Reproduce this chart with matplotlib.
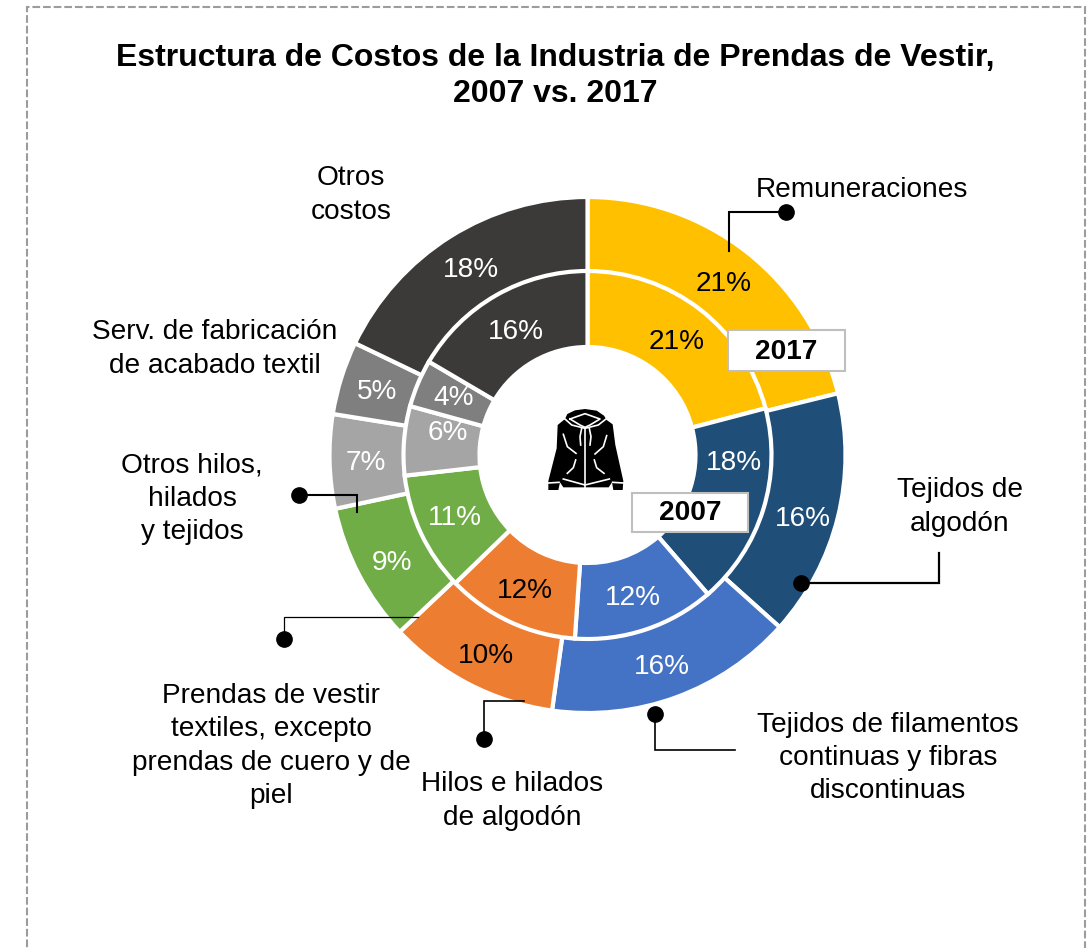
import matplotlib
matplotlib.use("Agg")
import matplotlib.pyplot as plt
from matplotlib.patches import Polygon, Rectangle

plt.rcParams['font.family'] = ['Liberation Sans', 'DejaVu Sans']

W, H = 1091, 948

# shares measured off the rings (drawn sizes differ a bit from the printed labels)
shares_2017 = [21.2, 15.5, 15.6, 10.8, 8.7, 5.9, 4.6, 17.9]
shares_2007 = [21.0, 17.8, 12.5, 11.7, 10.5, 6.1, 4.2, 16.6]
labels_2017 = ["21%", "16%", "16%", "10%", "9%", "7%", "5%", "18%"]
labels_2007 = ["21%", "18%", "12%", "12%", "11%", "6%", "4%", "16%"]
colors = ["#FFC000", "#1F4E79", "#4472C4", "#ED7D31", "#70AD47", "#A5A5A5", "#7F7F7F", "#3B3A38"]
dark_slices = ["#FFC000", "#ED7D31"]

pos_2017 = [(724, 284), (803, 519), (662, 667), (486, 656), (392, 563), (366, 463), (377, 392), (471, 270)]
pos_2007 = [(677, 342), (734, 463), (633, 598), (525, 591), (455, 518), (448, 433), (454, 398), (516, 332)]


def Y(py):
    return H - py


fig = plt.figure(figsize=(W / 100, H / 100), dpi=100)
ax = fig.add_axes([0, 0, 1, 1])

cx, cy = 587.5, Y(455)
ax.pie(shares_2017, radius=258, center=(cx, cy), colors=colors, startangle=90, counterclock=False,
       frame=True, wedgeprops=dict(width=75, edgecolor="white", linewidth=3))
ax.pie(shares_2007, radius=184, center=(cx, cy), colors=colors, startangle=90, counterclock=False,
       frame=True, wedgeprops=dict(width=76, edgecolor="white", linewidth=3))
ax.set_xlim(0, W)
ax.set_ylim(0, H)
ax.set_aspect("equal")
ax.axis("off")

# dashed frame, runs off the bottom of the picture
ax.add_patch(Rectangle((26.5, Y(1000)), 1058, 993, fill=False, edgecolor="#9c9c9c", linewidth=1.5,
                       linestyle=(0, (3.7, 1.4)), clip_on=True))

ax.text(555, Y(76), "Estructura de Costos de la Industria de Prendas de Vestir,\n2007 vs. 2017",
        ha="center", va="center", fontsize=23, fontweight="bold", linespacing=1.27)

for txt, col, p in zip(labels_2017 + labels_2007, colors + colors, pos_2017 + pos_2007):
    ax.text(p[0], Y(p[1]), txt, ha="center", va="center", fontsize=20.2,
            color="black" if col in dark_slices else "white")

# category names
names = [
    (351, 195, "Otros\ncostos"),
    (862, 190, "Remuneraciones"),
    (215, 349, "Serv. de fabricación\nde acabado textil"),
    (192, 499, "Otros hilos,\nhilados\ny tejidos"),
    (960, 507, "Tejidos de\nalgodón"),
    (888, 758, "Tejidos de filamentos\ncontinuas y fibras\ndiscontinuas"),
    (512, 801, "Hilos e hilados\nde algodón"),
    (271, 746, "Prendas de vestir\ntextiles, excepto\nprendas de cuero y de\npiel"),
]
for x, y, txt in names:
    ax.text(x, Y(y), txt, ha="center", va="center", fontsize=20.2, linespacing=1.37)

# leader lines: dot first, then the elbow path
leaders = [
    ([786, 729, 729], [212, 212, 251], 1.5),
    ([801, 939, 939], [583, 583, 553], 1.6),
    ([655, 655, 735], [714, 750, 750], 1.2),
    ([484, 484, 524], [739, 701, 701], 1.2),
    ([284, 284, 418], [639, 617, 617], 0.9),
    ([299, 357, 357], [495, 495, 512], 1.5),
]
for xs, ys, lw in leaders:
    ax.plot(xs, [Y(v) for v in ys], color="black", linewidth=lw, solid_joinstyle="miter", zorder=4)
    ax.plot(xs[0], Y(ys[0]), "o", color="black", markersize=11, zorder=5)

# year boxes
for x0, y0, x1, y1, txt in [(728, 330, 845, 371, "2017"), (632, 493, 748, 532, "2007")]:
    ax.add_patch(Rectangle((x0, Y(y1)), x1 - x0, y1 - y0, facecolor="white", edgecolor="#BFBFBF",
                           linewidth=1.5, zorder=6))
    ax.text((x0 + x1) / 2, Y((y0 + y1) / 2 + 1), txt, ha="center", va="center", fontsize=20.2,
            fontweight="bold", zorder=7)


# jacket icon, traced in 3x zoom coordinates
def jk(points):
    return [(530 + a / 3, Y(395 + b / 3)) for a, b in points]


body = [(165, 42), (200, 47), (222, 62), (230, 75), (248, 88), (256, 150), (280, 258), (278, 285), (250, 285),
        (246, 262), (236, 277), (100, 277), (90, 262), (85, 285), (55, 285), (55, 258), (80, 160), (83, 90),
        (105, 72), (112, 57), (135, 46)]
ax.add_patch(Polygon(jk(body), closed=True, facecolor="black", edgecolor="none", zorder=3))
white_lines = [
    [(165, 100), (165, 278)],
    [(105, 72), (125, 90), (165, 100), (205, 90), (228, 72)],
    [(120, 72), (165, 56), (210, 72), (180, 90), (165, 97), (150, 90), (120, 72)],
    [(155, 100), (150, 125), (152, 150)],
    [(178, 100), (183, 125), (180, 150)],
    [(100, 118), (112, 155), (138, 175)],
    [(230, 122), (220, 155), (195, 177)],
    [(137, 195), (130, 218), (112, 235)],
    [(193, 195), (200, 218), (222, 235)],
    [(100, 252), (165, 270), (238, 252)],
    [(55, 264), (87, 262)],
    [(248, 262), (280, 264)],
]
for line in white_lines:
    pts = jk(line)
    ax.plot([p[0] for p in pts], [p[1] for p in pts], color="white", linewidth=1.2, zorder=3.5)

fig.savefig("out.png", dpi=100)
